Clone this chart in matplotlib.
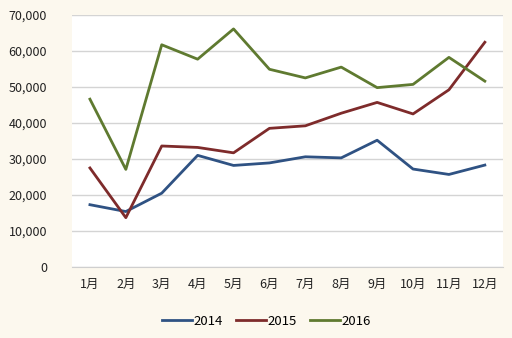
import matplotlib.pyplot as plt
from matplotlib.ticker import FuncFormatter

plt.rcParams['font.family'] = ['Noto Sans CJK SC', 'DejaVu Sans']

months = ["1月", "2月", "3月", "4月", "5月", "6月", "7月", "8月", "9月", "10月", "11月", "12月"]
y2014 = [17300, 15400, 20500, 31000, 28200, 28900, 30600, 30300, 35200, 27200, 25700, 28300]
y2015 = [27500, 13700, 33600, 33200, 31700, 38500, 39200, 42700, 45700, 42500, 49200, 62400]
y2016 = [46600, 27100, 61700, 57700, 66100, 54900, 52500, 55500, 49800, 50700, 58200, 51600]

bg = '#FCF8EE'
fig = plt.figure(figsize=(5.12, 3.38), dpi=100, facecolor=bg)
ax = fig.add_axes([0.1406, 0.21, 0.8414, 0.746])
ax.set_facecolor('white')

x = range(len(months))
ax.plot(x, y2014, color='#2F5283', lw=2.0, label='2014')
ax.plot(x, y2015, color='#7E2B2B', lw=2.0, label='2015')
ax.plot(x, y2016, color='#5F7A30', lw=2.0, label='2016')

ax.set_xlim(-0.5, 11.5)
ax.set_ylim(0, 70000)
ax.set_yticks(range(0, 70001, 10000))
ax.yaxis.set_major_formatter(FuncFormatter(lambda v, p: f"{int(v):,}"))
ax.set_xticks(list(x))
ax.set_xticklabels(months)
ax.grid(axis='y', color='#D4D4D4', lw=1)
ax.set_axisbelow(True)
for s in ['top', 'right', 'left']:
    ax.spines[s].set_visible(False)
ax.spines['bottom'].set_color('#CFCFCF')
ax.tick_params(length=0, labelsize=9, colors='#222222')
ax.tick_params(axis='y', pad=18)
ax.tick_params(axis='x', pad=8)

fig.legend(loc='center', bbox_to_anchor=(0.52, 0.05), ncol=3, frameon=False,
           fontsize=9.5, handlelength=2.3, handletextpad=0.1, columnspacing=1.0)

fig.savefig('out.png', dpi=100, facecolor=bg)
